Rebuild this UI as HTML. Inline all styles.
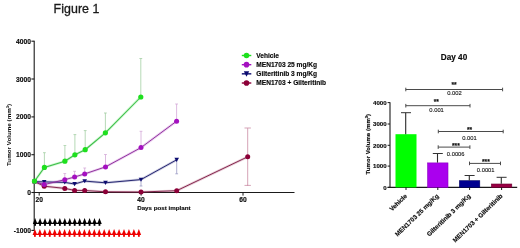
<!DOCTYPE html>
<html><head><meta charset="utf-8"><title>Figure 1</title>
<style>html,body{margin:0;padding:0;background:#fff;}svg{display:block;}text{font-family:"Liberation Sans",Arial,sans-serif;}text[font-weight=bold]{stroke:#0a0a0a;stroke-width:0.15px;}text.p{stroke:#151515;stroke-width:0.12px;}</style></head>
<body><svg width="520" height="248" viewBox="0 0 520 248">
<rect width="520" height="248" fill="#fff"/>
<text x="53.6" y="12.9" font-size="12.4" fill="#1a1a1a" stroke="#1a1a1a" stroke-width="0.3" letter-spacing="0.05">Figure 1</text>
<line x1="34.2" y1="40.7" x2="34.2" y2="230.9" stroke="#1a1a1a" stroke-width="1.1"/>
<line x1="31.4" y1="41.2" x2="34.2" y2="41.2" stroke="#1a1a1a" stroke-width="1.1"/>
<text x="30.9" y="43.7" font-size="6.7" font-weight="bold" text-anchor="end" fill="#0a0a0a">4000</text>
<line x1="31.4" y1="79.0" x2="34.2" y2="79.0" stroke="#1a1a1a" stroke-width="1.1"/>
<text x="30.9" y="81.5" font-size="6.7" font-weight="bold" text-anchor="end" fill="#0a0a0a">3000</text>
<line x1="31.4" y1="116.9" x2="34.2" y2="116.9" stroke="#1a1a1a" stroke-width="1.1"/>
<text x="30.9" y="119.4" font-size="6.7" font-weight="bold" text-anchor="end" fill="#0a0a0a">2000</text>
<line x1="31.4" y1="154.7" x2="34.2" y2="154.7" stroke="#1a1a1a" stroke-width="1.1"/>
<text x="30.9" y="157.2" font-size="6.7" font-weight="bold" text-anchor="end" fill="#0a0a0a">1000</text>
<line x1="31.4" y1="192.5" x2="34.2" y2="192.5" stroke="#1a1a1a" stroke-width="1.1"/>
<text x="30.9" y="195" font-size="6.7" font-weight="bold" text-anchor="end" fill="#0a0a0a">0</text>
<line x1="31.4" y1="230.4" x2="34.2" y2="230.4" stroke="#1a1a1a" stroke-width="1.1"/>
<text x="30.9" y="232.9" font-size="6.7" font-weight="bold" text-anchor="end" fill="#0a0a0a">-1000</text>
<line x1="32" y1="192.5" x2="294.5" y2="192.5" stroke="#1a1a1a" stroke-width="1.1"/>
<line x1="39.2" y1="192.5" x2="39.2" y2="195.6" stroke="#1a1a1a" stroke-width="1"/>
<text x="39.2" y="202.4" font-size="6.7" font-weight="bold" text-anchor="middle" fill="#0a0a0a">20</text>
<line x1="141.1" y1="192.5" x2="141.1" y2="195.6" stroke="#1a1a1a" stroke-width="1"/>
<text x="141.1" y="202.4" font-size="6.7" font-weight="bold" text-anchor="middle" fill="#0a0a0a">40</text>
<line x1="243.0" y1="192.5" x2="243.0" y2="195.6" stroke="#1a1a1a" stroke-width="1"/>
<text x="243" y="202.4" font-size="6.7" font-weight="bold" text-anchor="middle" fill="#0a0a0a">60</text>
<text x="137.2" y="210.4" font-size="6.2" font-weight="bold" fill="#0a0a0a">Days post implant</text>
<text transform="translate(11.0,166.0) rotate(-90)" font-size="6.26" font-weight="bold" style="stroke:none" fill="#0a0a0a">Tumor Volume (mm<tspan font-size="4.2" dy="-2.4">3</tspan><tspan dy="2.4">)</tspan></text>
<g stroke="#4aa04a" stroke-width="0.8" opacity="0.5"><line x1="44.4" y1="152.7" x2="44.4" y2="167.4"/><line x1="43" y1="152.7" x2="45.8" y2="152.7"/></g>
<g stroke="#4aa04a" stroke-width="0.8" opacity="0.5"><line x1="64.9" y1="145.4" x2="64.9" y2="161.2"/><line x1="63.5" y1="145.4" x2="66.3" y2="145.4"/></g>
<g stroke="#4aa04a" stroke-width="0.8" opacity="0.5"><line x1="74.9" y1="134.6" x2="74.9" y2="154.8"/><line x1="73.5" y1="134.6" x2="76.3" y2="134.6"/></g>
<g stroke="#4aa04a" stroke-width="0.8" opacity="0.5"><line x1="85.2" y1="130.6" x2="85.2" y2="149.7"/><line x1="83.8" y1="130.6" x2="86.6" y2="130.6"/></g>
<g stroke="#4aa04a" stroke-width="0.8" opacity="0.5"><line x1="105.4" y1="113" x2="105.4" y2="132.8"/><line x1="104" y1="113" x2="106.8" y2="113"/></g>
<g stroke="#4aa04a" stroke-width="0.8" opacity="0.5"><line x1="140.8" y1="58.5" x2="140.8" y2="97"/><line x1="139.4" y1="58.5" x2="142.2" y2="58.5"/></g>
<g stroke="#a040a8" stroke-width="0.8" opacity="0.45"><line x1="64.8" y1="173.4" x2="64.8" y2="179.7"/><line x1="63.4" y1="173.4" x2="66.2" y2="173.4"/></g>
<g stroke="#a040a8" stroke-width="0.8" opacity="0.45"><line x1="74.6" y1="171.3" x2="74.6" y2="177"/><line x1="73.2" y1="171.3" x2="76" y2="171.3"/></g>
<g stroke="#a040a8" stroke-width="0.8" opacity="0.45"><line x1="84.7" y1="168" x2="84.7" y2="173.9"/><line x1="83.3" y1="168" x2="86.1" y2="168"/></g>
<g stroke="#a040a8" stroke-width="0.8" opacity="0.45"><line x1="105.5" y1="154.5" x2="105.5" y2="166.9"/><line x1="104.1" y1="154.5" x2="106.9" y2="154.5"/></g>
<g stroke="#a040a8" stroke-width="0.8" opacity="0.45"><line x1="141" y1="131.3" x2="141" y2="147.6"/><line x1="139.6" y1="131.3" x2="142.4" y2="131.3"/></g>
<g stroke="#a040a8" stroke-width="0.8" opacity="0.45"><line x1="176.6" y1="104" x2="176.6" y2="121.2"/><line x1="175.2" y1="104" x2="178" y2="104"/></g>
<g stroke="#0c0c70" stroke-width="0.8" opacity="0.42"><line x1="141" y1="186" x2="141" y2="179.6"/><line x1="139.6" y1="186" x2="142.4" y2="186"/></g>
<g stroke="#0c0c70" stroke-width="0.8" opacity="0.42"><line x1="176.7" y1="173.8" x2="176.7" y2="159.8"/><line x1="175.3" y1="173.8" x2="178.1" y2="173.8"/></g>
<g stroke="#8c0038" stroke-width="0.9" opacity="0.4"><line x1="247.7" y1="128" x2="247.7" y2="185.4"/><line x1="244.5" y1="128" x2="250.9" y2="128"/></g>
<line x1="244.5" y1="185.4" x2="250.9" y2="185.4" stroke="#8c0038" stroke-width="0.9" opacity="0.4"/>
<polyline points="34.5,181.6 44.2,186.2 64.8,188.4 74.6,190.4 84.7,190.5 105.5,191.8 141,192 176.7,190.7 247.7,156.8" fill="none" stroke="#8c0038" stroke-width="2.6" opacity="0.2"/>
<polyline points="34.5,181.6 44.2,186.2 64.8,188.4 74.6,190.4 84.7,190.5 105.5,191.8 141,192 176.7,190.7 247.7,156.8" fill="none" stroke="#7e2048" stroke-width="0.95"/>
<circle cx="34.5" cy="181.6" r="2.5" fill="#8c0038"/>
<circle cx="44.2" cy="186.2" r="2.5" fill="#8c0038"/>
<circle cx="64.8" cy="188.4" r="2.5" fill="#8c0038"/>
<circle cx="74.6" cy="190.4" r="2.5" fill="#8c0038"/>
<circle cx="84.7" cy="190.5" r="2.5" fill="#8c0038"/>
<circle cx="105.5" cy="191.8" r="2.5" fill="#8c0038"/>
<circle cx="141" cy="192" r="2.5" fill="#8c0038"/>
<circle cx="176.7" cy="190.7" r="2.5" fill="#8c0038"/>
<circle cx="247.7" cy="156.8" r="2.5" fill="#8c0038"/>
<polyline points="34.5,181.6 44.2,181.9 64.8,182.4 74.6,184 84.7,181.1 105.5,182.8 141,179.6 176.7,159.8" fill="none" stroke="#0c0c70" stroke-width="2.6" opacity="0.2"/>
<polyline points="34.5,181.6 44.2,181.9 64.8,182.4 74.6,184 84.7,181.1 105.5,182.8 141,179.6 176.7,159.8" fill="none" stroke="#1c1e6a" stroke-width="0.95"/>
<polygon points="32.2,179.64 36.8,179.64 34.5,183.78" fill="#0c0c70"/>
<polygon points="41.9,179.94 46.5,179.94 44.2,184.09" fill="#0c0c70"/>
<polygon points="62.5,180.44 67.1,180.44 64.8,184.59" fill="#0c0c70"/>
<polygon points="72.3,182.04 76.9,182.04 74.6,186.19" fill="#0c0c70"/>
<polygon points="82.4,179.14 87,179.14 84.7,183.28" fill="#0c0c70"/>
<polygon points="103.2,180.84 107.8,180.84 105.5,184.99" fill="#0c0c70"/>
<polygon points="138.7,177.64 143.3,177.64 141,181.78" fill="#0c0c70"/>
<polygon points="174.4,157.84 179,157.84 176.7,161.99" fill="#0c0c70"/>
<polyline points="34.5,181.6 44.2,184.6 64.8,179.7 74.6,177 84.7,173.9 105.5,166.9 141,147.6 176.6,121.2" fill="none" stroke="#a410c0" stroke-width="2.6" opacity="0.2"/>
<polyline points="34.5,181.6 44.2,184.6 64.8,179.7 74.6,177 84.7,173.9 105.5,166.9 141,147.6 176.6,121.2" fill="none" stroke="#8a2c98" stroke-width="0.95"/>
<circle cx="34.5" cy="181.6" r="2.5" fill="#a410c0"/>
<circle cx="44.2" cy="184.6" r="2.5" fill="#a410c0"/>
<circle cx="64.8" cy="179.7" r="2.5" fill="#a410c0"/>
<circle cx="74.6" cy="177" r="2.5" fill="#a410c0"/>
<circle cx="84.7" cy="173.9" r="2.5" fill="#a410c0"/>
<circle cx="105.5" cy="166.9" r="2.5" fill="#a410c0"/>
<circle cx="141" cy="147.6" r="2.5" fill="#a410c0"/>
<circle cx="176.6" cy="121.2" r="2.5" fill="#a410c0"/>
<polyline points="34.5,181.2 44.4,167.4 64.9,161.2 74.9,154.8 85.2,149.7 105.4,132.8 140.8,97" fill="none" stroke="#1ee01e" stroke-width="2.6" opacity="0.2"/>
<polyline points="34.5,181.2 44.4,167.4 64.9,161.2 74.9,154.8 85.2,149.7 105.4,132.8 140.8,97" fill="none" stroke="#3cbc4a" stroke-width="1.05"/>
<circle cx="34.5" cy="181.2" r="2.6" fill="#1ee01e"/>
<circle cx="44.4" cy="167.4" r="2.6" fill="#1ee01e"/>
<circle cx="64.9" cy="161.2" r="2.6" fill="#1ee01e"/>
<circle cx="74.9" cy="154.8" r="2.6" fill="#1ee01e"/>
<circle cx="85.2" cy="149.7" r="2.6" fill="#1ee01e"/>
<circle cx="105.4" cy="132.8" r="2.6" fill="#1ee01e"/>
<circle cx="140.8" cy="97" r="2.6" fill="#1ee01e"/>
<line x1="35.1" y1="223.4" x2="99.45" y2="223.4" stroke="#000" stroke-width="1.3"/>
<polygon points="35.1,217.9 37.4,223.9 32.8,223.9" fill="#000"/><rect x="34.2" y="223.4" width="1.8" height="2.4" fill="#000"/>
<polygon points="40.05,217.9 42.35,223.9 37.75,223.9" fill="#000"/><rect x="39.15" y="223.4" width="1.8" height="2.4" fill="#000"/>
<polygon points="45,217.9 47.3,223.9 42.7,223.9" fill="#000"/><rect x="44.1" y="223.4" width="1.8" height="2.4" fill="#000"/>
<polygon points="49.95,217.9 52.25,223.9 47.65,223.9" fill="#000"/><rect x="49.05" y="223.4" width="1.8" height="2.4" fill="#000"/>
<polygon points="54.9,217.9 57.2,223.9 52.6,223.9" fill="#000"/><rect x="54" y="223.4" width="1.8" height="2.4" fill="#000"/>
<polygon points="59.85,217.9 62.15,223.9 57.55,223.9" fill="#000"/><rect x="58.95" y="223.4" width="1.8" height="2.4" fill="#000"/>
<polygon points="64.8,217.9 67.1,223.9 62.5,223.9" fill="#000"/><rect x="63.9" y="223.4" width="1.8" height="2.4" fill="#000"/>
<polygon points="69.75,217.9 72.05,223.9 67.45,223.9" fill="#000"/><rect x="68.85" y="223.4" width="1.8" height="2.4" fill="#000"/>
<polygon points="74.7,217.9 77,223.9 72.4,223.9" fill="#000"/><rect x="73.8" y="223.4" width="1.8" height="2.4" fill="#000"/>
<polygon points="79.65,217.9 81.95,223.9 77.35,223.9" fill="#000"/><rect x="78.75" y="223.4" width="1.8" height="2.4" fill="#000"/>
<polygon points="84.6,217.9 86.9,223.9 82.3,223.9" fill="#000"/><rect x="83.7" y="223.4" width="1.8" height="2.4" fill="#000"/>
<polygon points="89.55,217.9 91.85,223.9 87.25,223.9" fill="#000"/><rect x="88.65" y="223.4" width="1.8" height="2.4" fill="#000"/>
<polygon points="94.5,217.9 96.8,223.9 92.2,223.9" fill="#000"/><rect x="93.6" y="223.4" width="1.8" height="2.4" fill="#000"/>
<polygon points="99.45,217.9 101.75,223.9 97.15,223.9" fill="#000"/><rect x="98.55" y="223.4" width="1.8" height="2.4" fill="#000"/>
<line x1="34.9" y1="234.4" x2="138.85" y2="234.4" stroke="#ee0000" stroke-width="1.3"/>
<polygon points="34.9,228.9 37.2,234.9 32.6,234.9" fill="#ee0000"/><rect x="34" y="234.4" width="1.8" height="2.4" fill="#ee0000"/>
<polygon points="39.85,228.9 42.15,234.9 37.55,234.9" fill="#ee0000"/><rect x="38.95" y="234.4" width="1.8" height="2.4" fill="#ee0000"/>
<polygon points="44.8,228.9 47.1,234.9 42.5,234.9" fill="#ee0000"/><rect x="43.9" y="234.4" width="1.8" height="2.4" fill="#ee0000"/>
<polygon points="49.75,228.9 52.05,234.9 47.45,234.9" fill="#ee0000"/><rect x="48.85" y="234.4" width="1.8" height="2.4" fill="#ee0000"/>
<polygon points="54.7,228.9 57,234.9 52.4,234.9" fill="#ee0000"/><rect x="53.8" y="234.4" width="1.8" height="2.4" fill="#ee0000"/>
<polygon points="59.65,228.9 61.95,234.9 57.35,234.9" fill="#ee0000"/><rect x="58.75" y="234.4" width="1.8" height="2.4" fill="#ee0000"/>
<polygon points="64.6,228.9 66.9,234.9 62.3,234.9" fill="#ee0000"/><rect x="63.7" y="234.4" width="1.8" height="2.4" fill="#ee0000"/>
<polygon points="69.55,228.9 71.85,234.9 67.25,234.9" fill="#ee0000"/><rect x="68.65" y="234.4" width="1.8" height="2.4" fill="#ee0000"/>
<polygon points="74.5,228.9 76.8,234.9 72.2,234.9" fill="#ee0000"/><rect x="73.6" y="234.4" width="1.8" height="2.4" fill="#ee0000"/>
<polygon points="79.45,228.9 81.75,234.9 77.15,234.9" fill="#ee0000"/><rect x="78.55" y="234.4" width="1.8" height="2.4" fill="#ee0000"/>
<polygon points="84.4,228.9 86.7,234.9 82.1,234.9" fill="#ee0000"/><rect x="83.5" y="234.4" width="1.8" height="2.4" fill="#ee0000"/>
<polygon points="89.35,228.9 91.65,234.9 87.05,234.9" fill="#ee0000"/><rect x="88.45" y="234.4" width="1.8" height="2.4" fill="#ee0000"/>
<polygon points="94.3,228.9 96.6,234.9 92,234.9" fill="#ee0000"/><rect x="93.4" y="234.4" width="1.8" height="2.4" fill="#ee0000"/>
<polygon points="99.25,228.9 101.55,234.9 96.95,234.9" fill="#ee0000"/><rect x="98.35" y="234.4" width="1.8" height="2.4" fill="#ee0000"/>
<polygon points="104.2,228.9 106.5,234.9 101.9,234.9" fill="#ee0000"/><rect x="103.3" y="234.4" width="1.8" height="2.4" fill="#ee0000"/>
<polygon points="109.15,228.9 111.45,234.9 106.85,234.9" fill="#ee0000"/><rect x="108.25" y="234.4" width="1.8" height="2.4" fill="#ee0000"/>
<polygon points="114.1,228.9 116.4,234.9 111.8,234.9" fill="#ee0000"/><rect x="113.2" y="234.4" width="1.8" height="2.4" fill="#ee0000"/>
<polygon points="119.05,228.9 121.35,234.9 116.75,234.9" fill="#ee0000"/><rect x="118.15" y="234.4" width="1.8" height="2.4" fill="#ee0000"/>
<polygon points="124,228.9 126.3,234.9 121.7,234.9" fill="#ee0000"/><rect x="123.1" y="234.4" width="1.8" height="2.4" fill="#ee0000"/>
<polygon points="128.95,228.9 131.25,234.9 126.65,234.9" fill="#ee0000"/><rect x="128.05" y="234.4" width="1.8" height="2.4" fill="#ee0000"/>
<polygon points="133.9,228.9 136.2,234.9 131.6,234.9" fill="#ee0000"/><rect x="133" y="234.4" width="1.8" height="2.4" fill="#ee0000"/>
<polygon points="138.85,228.9 141.15,234.9 136.55,234.9" fill="#ee0000"/><rect x="137.95" y="234.4" width="1.8" height="2.4" fill="#ee0000"/>
<line x1="241.8" y1="55.5" x2="251.3" y2="55.5" stroke="#1ee01e" stroke-width="1.4"/>
<circle cx="246.5" cy="55.5" r="2.8" fill="#1ee01e"/>
<text x="256.3" y="57.9" font-size="6.6" font-weight="bold" fill="#0a0a0a">Vehicle</text>
<line x1="241.8" y1="64.67" x2="251.3" y2="64.67" stroke="#a410c0" stroke-width="1.4"/>
<circle cx="246.5" cy="64.67" r="2.8" fill="#a410c0"/>
<text x="256.3" y="67.07" font-size="6.6" font-weight="bold" fill="#0a0a0a">MEN1703 25 mg/Kg</text>
<line x1="241.8" y1="73.84" x2="251.3" y2="73.84" stroke="#0c0c70" stroke-width="1.4"/>
<polygon points="243.8,71.34 249.2,71.34 246.5,76.74" fill="#0c0c70"/>
<text x="256.3" y="76.24" font-size="6.6" font-weight="bold" fill="#0a0a0a">Gilteritinib 3 mg/Kg</text>
<line x1="241.8" y1="83.01" x2="251.3" y2="83.01" stroke="#8c0038" stroke-width="1.4"/>
<circle cx="246.5" cy="83.01" r="2.8" fill="#8c0038"/>
<text x="256.3" y="85.41" font-size="6.6" font-weight="bold" fill="#0a0a0a">MEN1703 + Gilteritinib</text>
<text x="454" y="59.6" font-size="8.2" font-weight="bold" text-anchor="middle" fill="#0a0a0a">Day 40</text>
<line x1="390.0" y1="102.2" x2="390.0" y2="187.4" stroke="#1a1a1a" stroke-width="1.1"/>
<line x1="387.6" y1="102.6" x2="390.0" y2="102.6" stroke="#1a1a1a" stroke-width="1"/>
<text x="386.6" y="104.8" font-size="6.1" font-weight="bold" text-anchor="end" fill="#0a0a0a">4000</text>
<line x1="387.6" y1="124.0" x2="390.0" y2="124.0" stroke="#1a1a1a" stroke-width="1"/>
<text x="386.6" y="126.2" font-size="6.1" font-weight="bold" text-anchor="end" fill="#0a0a0a">3000</text>
<line x1="387.6" y1="145.3" x2="390.0" y2="145.3" stroke="#1a1a1a" stroke-width="1"/>
<text x="386.6" y="147.5" font-size="6.1" font-weight="bold" text-anchor="end" fill="#0a0a0a">2000</text>
<line x1="387.6" y1="166.1" x2="390.0" y2="166.1" stroke="#1a1a1a" stroke-width="1"/>
<text x="386.6" y="168.3" font-size="6.1" font-weight="bold" text-anchor="end" fill="#0a0a0a">1000</text>
<line x1="387.6" y1="187.4" x2="390.0" y2="187.4" stroke="#1a1a1a" stroke-width="1"/>
<text x="386.6" y="189.6" font-size="6.1" font-weight="bold" text-anchor="end" fill="#0a0a0a">0</text>
<line x1="387.6" y1="187.4" x2="517.2" y2="187.4" stroke="#1a1a1a" stroke-width="1.1"/>
<rect x="395.5" y="134.2" width="21" height="53.2" fill="#00ff00"/>
<line x1="405.7" y1="112.7" x2="405.7" y2="134.2" stroke="#2a2a2a" stroke-width="1.1"/>
<line x1="401" y1="112.7" x2="411" y2="112.7" stroke="#333" stroke-width="1"/>
<line x1="406.0" y1="187.4" x2="406.0" y2="190" stroke="#1a1a1a" stroke-width="1"/>
<rect x="427.6" y="162.9" width="20.4" height="24.5" fill="#aa00ee" stroke="#8a00c0" stroke-width="0.6"/>
<line x1="437.5" y1="153.5" x2="437.5" y2="162.6" stroke="#2a2a2a" stroke-width="1.1"/>
<line x1="432.8" y1="153.5" x2="442.8" y2="153.5" stroke="#333" stroke-width="1"/>
<line x1="437.8" y1="187.4" x2="437.8" y2="190" stroke="#1a1a1a" stroke-width="1"/>
<rect x="459.4" y="180.7" width="20.4" height="6.7" fill="#000090" stroke="#000060" stroke-width="0.6"/>
<line x1="469.3" y1="175.5" x2="469.3" y2="180.4" stroke="#2a2a2a" stroke-width="1.1"/>
<line x1="464.6" y1="175.5" x2="474.6" y2="175.5" stroke="#333" stroke-width="1"/>
<line x1="469.6" y1="187.4" x2="469.6" y2="190" stroke="#1a1a1a" stroke-width="1"/>
<rect x="491.4" y="184" width="20.4" height="3.4" fill="#990044" stroke="#6a0030" stroke-width="0.6"/>
<line x1="501.3" y1="177.3" x2="501.3" y2="183.7" stroke="#2a2a2a" stroke-width="1.1"/>
<line x1="496.6" y1="177.3" x2="506.6" y2="177.3" stroke="#333" stroke-width="1"/>
<line x1="501.6" y1="187.4" x2="501.6" y2="190" stroke="#1a1a1a" stroke-width="1"/>
<text transform="translate(369.9,174.5) rotate(-90)" font-size="6.1" font-weight="bold" style="stroke-width:0.15px" fill="#0a0a0a">Tumor Volume (mm<tspan font-size="4.1" dy="-2.3">3</tspan><tspan dy="2.3">)</tspan></text>
<text transform="translate(407.5,196.5) rotate(-44)" font-size="6.3" font-weight="bold" text-anchor="end" fill="#0a0a0a">Vehicle</text>
<text transform="translate(439.3,196.5) rotate(-44)" font-size="6.3" font-weight="bold" text-anchor="end" fill="#0a0a0a">MEN1703 25 mg/Kg</text>
<text transform="translate(471.1,196.5) rotate(-44)" font-size="6.3" font-weight="bold" text-anchor="end" fill="#0a0a0a">Gilteritinib 3 mg/Kg</text>
<text transform="translate(503.1,196.5) rotate(-44)" font-size="6.3" font-weight="bold" text-anchor="end" fill="#0a0a0a">MEN1703 + Gilteritinib</text>
<g stroke="#4a4a4a" stroke-width="1"><line x1="405.8" y1="89.5" x2="502.6" y2="89.5"/><line x1="405.8" y1="87.7" x2="405.8" y2="91.3"/><line x1="502.6" y1="87.7" x2="502.6" y2="91.3"/></g>
<text x="454.1" y="87.1" font-size="6.6" font-weight="bold" text-anchor="middle" fill="#0a0a0a">**</text>
<text x="454.4" y="95.4" font-size="5.8" text-anchor="middle" fill="#151515" class="p">0.002</text>
<g stroke="#4a4a4a" stroke-width="1"><line x1="405.8" y1="105.7" x2="470.0" y2="105.7"/><line x1="405.8" y1="103.9" x2="405.8" y2="107.5"/><line x1="470.0" y1="103.9" x2="470.0" y2="107.5"/></g>
<text x="436.3" y="104.2" font-size="6.6" font-weight="bold" text-anchor="middle" fill="#0a0a0a">**</text>
<text x="436.6" y="112.4" font-size="5.8" text-anchor="middle" fill="#151515" class="p">0.001</text>
<g stroke="#4a4a4a" stroke-width="1"><line x1="438.3" y1="131.5" x2="503.2" y2="131.5"/><line x1="438.3" y1="129.7" x2="438.3" y2="133.3"/><line x1="503.2" y1="129.7" x2="503.2" y2="133.3"/></g>
<text x="469.5" y="131.7" font-size="6.6" font-weight="bold" text-anchor="middle" fill="#0a0a0a">**</text>
<text x="469.4" y="139.6" font-size="5.8" text-anchor="middle" fill="#151515" class="p">0.001</text>
<g stroke="#4a4a4a" stroke-width="1"><line x1="438.2" y1="147.1" x2="469.9" y2="147.1"/><line x1="438.2" y1="145.3" x2="438.2" y2="148.9"/><line x1="469.9" y1="145.3" x2="469.9" y2="148.9"/></g>
<text x="455.9" y="147.7" font-size="6.6" font-weight="bold" text-anchor="middle" fill="#0a0a0a">***</text>
<text x="455.7" y="155.9" font-size="5.8" text-anchor="middle" fill="#151515" class="p">0.0006</text>
<g stroke="#4a4a4a" stroke-width="1"><line x1="469.5" y1="163.4" x2="500.5" y2="163.4"/><line x1="469.5" y1="161.6" x2="469.5" y2="165.2"/><line x1="500.5" y1="161.6" x2="500.5" y2="165.2"/></g>
<text x="485.9" y="163.6" font-size="6.6" font-weight="bold" text-anchor="middle" fill="#0a0a0a">***</text>
<text x="485.7" y="172.2" font-size="5.8" text-anchor="middle" fill="#151515" class="p">0.0001</text>
</svg></body></html>
